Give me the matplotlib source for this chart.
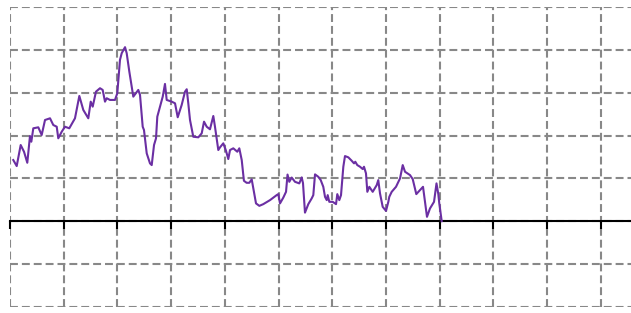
import matplotlib
matplotlib.use("Agg")
import matplotlib.pyplot as plt

x_vals = [0.061, 0.125, 0.199, 0.261, 0.322, 0.372, 0.397, 0.434, 0.527, 0.590,
          0.652, 0.745, 0.806, 0.870, 0.899, 0.963, 1.024, 1.104, 1.210, 1.291,
          1.365, 1.458, 1.503, 1.540, 1.601, 1.676, 1.726, 1.769, 1.801, 1.862,
          1.955, 1.998, 2.048, 2.080, 2.142, 2.173, 2.222, 2.296, 2.389, 2.421,
          2.471, 2.495, 2.546, 2.607, 2.639, 2.682, 2.719, 2.743, 2.793, 2.844,
          2.886, 2.918, 3.011, 3.073, 3.123, 3.197, 3.259, 3.291, 3.320, 3.352,
          3.413, 3.507, 3.570, 3.613, 3.663, 3.724, 3.786, 3.817, 3.879, 3.911,
          3.972, 4.022, 4.065, 4.097, 4.158, 4.233, 4.270, 4.315, 4.356, 4.406,
          4.456, 4.501, 4.531, 4.581, 4.643, 4.717, 4.842, 4.966, 4.996, 5.028,
          5.089, 5.140, 5.168, 5.201, 5.246, 5.307, 5.387, 5.432, 5.456, 5.493,
          5.555, 5.618, 5.648, 5.680, 5.741, 5.786, 5.834, 5.866, 5.898, 5.916,
          5.946, 6.009, 6.071, 6.095, 6.132, 6.164, 6.207, 6.238, 6.300, 6.363,
          6.406, 6.430, 6.467, 6.518, 6.568, 6.592, 6.629, 6.654, 6.691, 6.754,
          6.829, 6.858, 6.890, 6.940, 7.002, 7.045, 7.063, 7.108, 7.188, 7.263,
          7.313, 7.356, 7.449, 7.499, 7.566, 7.635, 7.691, 7.765, 7.821, 7.896,
          7.942, 7.976, 7.994, 8.039]

y_vals = [1.429, 1.288, 1.780, 1.623, 1.365, 1.991, 1.857, 2.171, 2.194, 2.014,
          2.365, 2.405, 2.248, 2.208, 1.937, 2.091, 2.208, 2.171, 2.405, 2.927,
          2.600, 2.405, 2.794, 2.677, 3.028, 3.108, 3.068, 2.794, 2.874, 2.834,
          2.834, 2.991, 3.770, 3.927, 4.068, 3.927, 3.496, 2.911, 3.068, 2.951,
          2.208, 2.131, 1.585, 1.351, 1.311, 1.780, 1.937, 2.443, 2.677, 2.911,
          3.208, 2.834, 2.794, 2.756, 2.429, 2.717, 3.028, 3.084, 2.756, 2.365,
          1.974, 1.960, 2.054, 2.326, 2.208, 2.148, 2.459, 2.208, 1.663, 1.726,
          1.820, 1.646, 1.452, 1.663, 1.703, 1.623, 1.703, 1.429, 0.944, 0.897,
          0.897, 0.977, 0.766, 0.415, 0.358, 0.398, 0.492, 0.609, 0.632, 0.415,
          0.550, 0.686, 1.089, 0.920, 1.019, 0.920, 0.883, 1.023, 0.890, 0.199,
          0.398, 0.532, 0.609, 1.094, 1.037, 0.960, 0.803, 0.569, 0.492, 0.609,
          0.452, 0.452, 0.398, 0.632, 0.492, 0.609, 1.272, 1.522, 1.492, 1.412,
          1.351, 1.389, 1.311, 1.272, 1.218, 1.272, 1.117, 0.686, 0.803, 0.686,
          0.843, 0.960, 0.649, 0.335, 0.241, 0.452, 0.569, 0.686, 0.803, 1.000,
          1.311, 1.155, 1.077, 0.984, 0.632, 0.726, 0.803, 0.101, 0.297, 0.452,
          0.883, 0.632, 0.415, 0.0]

x_ticks = list(range(0, 12))
y_ticks = list(range(-2, 6))

W, H = 631, 313
fig = plt.figure(figsize=(W / 100, H / 100), dpi=100)
ax = fig.add_axes([10 / W, 6.3 / H, 621 / W, 299.4 / H])

ax.plot(x_vals, y_vals, color="#6b2fa3", lw=1.5, zorder=3)

ax.set_xlim(0, 11.564)
ax.set_ylim(-2, 5)
ax.set_xticks(x_ticks)
ax.set_yticks(y_ticks)
ax.grid(True, color="#888888", lw=1.5, linestyle=(0, (3.8, 1.9)), zorder=0)
ax.set_axisbelow(True)

for s in ["top", "right", "left"]:
    ax.spines[s].set_visible(False)
ax.spines["bottom"].set_position(("data", 0))
ax.spines["bottom"].set_linewidth(1.5)
ax.spines["bottom"].set_color("black")
ax.spines["bottom"].set_zorder(2)
ax.tick_params(axis="x", direction="out", length=5.5, width=1.5, color="black",
               labelbottom=False)
ax.tick_params(axis="y", length=0, labelleft=False)

fig.savefig("out.png", dpi=100)
